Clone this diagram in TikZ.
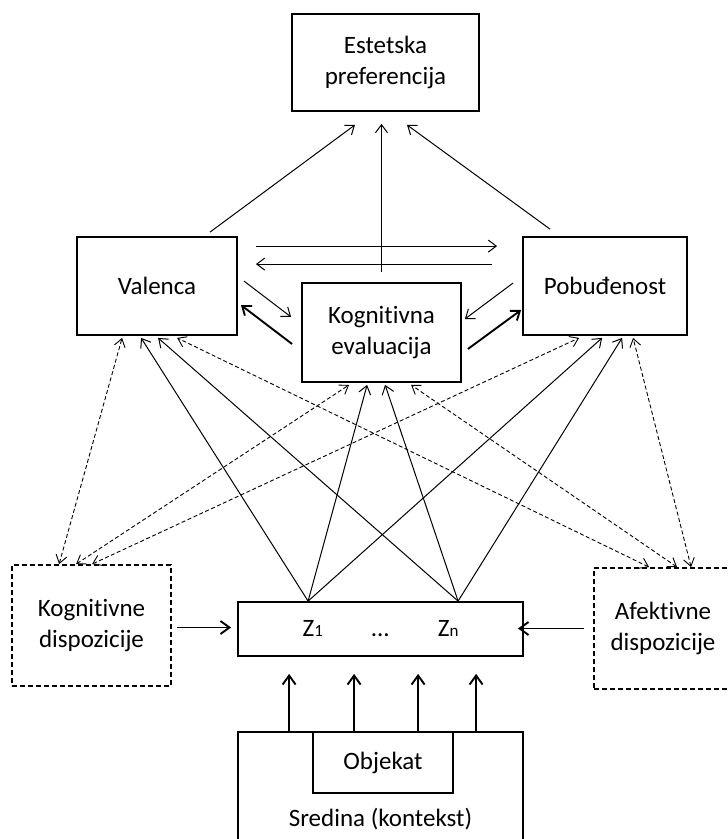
\documentclass[tikz,border=0pt]{standalone}
\usepackage{fontspec}
\setmainfont{Carlito}[Ligatures=NoCommon]
\usetikzlibrary{arrows.meta}
\begin{document}
\begin{tikzpicture}[x=1pt,y=-1pt,
  box/.style={draw,line width=1.8pt,rectangle,inner sep=0pt,align=center,
    font=\fontsize{25}{30.5}\selectfont},
  dbox/.style={box,dash pattern=on 5pt off 3pt},
  thinarr/.style={line width=1pt,-{Straight Barb[length=8pt,width=12pt]}},
  thickarr/.style={line width=1.9pt,-{Straight Barb[length=8pt,width=12pt]}},
  zarr/.style={line width=1.9pt,-{Straight Barb[length=9pt,width=13pt]}},
  darr/.style={line width=0.9pt,dash pattern=on 4pt off 2.5pt,
    {Straight Barb[length=8pt,width=11pt]}-{Straight Barb[length=8pt,width=11pt]}}
]
\useasboundingbox (0,0) rectangle (728,839);
\clip (0,0) rectangle (728,839);
\fill[white] (0,0) rectangle (728,839);

% nodes
\node[box,minimum width=187pt,minimum height=97pt] (est) at (385.5,62.5) {Estetska\\preferencija};
\node[box,minimum width=160pt,minimum height=98pt] (val) at (157,286) {Valenca};
\node[box,minimum width=164pt,minimum height=98pt] (pob) at (605,286) {Pobuđenost};
\node[box,minimum width=159pt,minimum height=99pt] (ke) at (381.5,332.5) {Kognitivna\\evaluacija};
\node[dbox,minimum width=159pt,minimum height=121pt] (kd) at (91.5,625.5) {Kognitivne\\dispozicije};
\node[dbox,minimum width=138pt,minimum height=121pt] (ad) at (663,628.5) {Afektivne\\dispozicije};
\node[box,minimum width=285pt,minimum height=54pt] (z) at (380.5,629)
  {Z{\fontsize{17}{20}\selectfont 1}\hspace{48pt}...\hspace{48pt}Z{\fontsize{17}{20}\selectfont n}};
\node[box,minimum width=285pt,minimum height=174pt] (sred) at (380.5,819) {Sredina (kontekst)};
\node[box,minimum width=140pt,minimum height=61pt] (obj) at (383,762.5) {Objekat};

% to Estetska preferencija
\draw[thinarr] ([xshift=53pt,yshift=4pt]val.north) -- ([xshift=-30.5pt,yshift=-13pt]est.south);
\draw[thinarr] ([yshift=10pt]ke.north) -- ([xshift=-4pt,yshift=-12pt]est.south);
\draw[thinarr] ([xshift=-55pt,yshift=7pt]pob.north) -- ([xshift=21.5pt,yshift=-13pt]est.south);

% between Valenca and Pobudjenost
\draw[thinarr] ([xshift=18pt,yshift=-10pt]val.north east) -- ([xshift=-25pt,yshift=-10pt]pob.north west);
\draw[thinarr] ([xshift=-30pt,yshift=-28pt]pob.north west) -- ([xshift=18pt,yshift=-28pt]val.north east);

% Valenca / Pobudjenost <-> Kognitivna evaluacija
\draw[thinarr] ([xshift=6pt,yshift=5pt]val.east) -- ([xshift=-10pt,yshift=15.5pt]ke.west);
\draw[thickarr] ([xshift=-9pt,yshift=-11.5pt]ke.west) -- ([xshift=3pt,yshift=-19pt]val.east);
\draw[thinarr] ([xshift=-9pt,yshift=3pt]pob.west) -- ([xshift=3pt,yshift=13.5pt]ke.east);
\draw[thickarr] ([xshift=6pt,yshift=-16.5pt]ke.east) -- ([xshift=-1pt,yshift=-24pt]pob.west);

% from Z1 and Zn
\coordinate (z1) at ([xshift=71pt]z.north west);
\coordinate (zn) at ([xshift=221pt]z.north west);
\draw[thinarr] (z1) -- ([xshift=65pt,yshift=-2pt]val.south west);
\draw[thinarr] (zn) -- ([xshift=82pt,yshift=-2pt]val.south west);
\draw[thinarr] (z1) -- ([xshift=66pt,yshift=-2pt]ke.south west);
\draw[thinarr] (zn) -- ([xshift=84pt,yshift=-2pt]ke.south west);
\draw[thinarr] (z1) -- ([xshift=80pt,yshift=-2pt]pob.south west);
\draw[thinarr] (zn) -- ([xshift=100pt,yshift=-2pt]pob.south west);

% dashed two-way connectors
\draw[darr] ([xshift=48pt]kd.north west) -- ([xshift=46pt,yshift=-2pt]val.south west);
\draw[darr] ([xshift=65pt]kd.north west) -- ([xshift=48pt,yshift=-2pt]ke.south west);
\draw[darr] ([xshift=81pt]kd.north west) -- ([xshift=57pt,yshift=-2pt]pob.south west);
\draw[darr] ([xshift=56pt]ad.north west) -- ([xshift=101pt,yshift=-2pt]val.south west);
\draw[darr] ([xshift=84pt]ad.north west) -- ([xshift=110pt,yshift=-2pt]ke.south west);
\draw[darr] ([xshift=98pt]ad.north west) -- ([xshift=111pt,yshift=-2pt]pob.south west);

% dispositions to Z
\draw[zarr] ([xshift=5pt,yshift=-2pt]kd.east) -- ([xshift=-6pt,yshift=-2pt]kd.east -| z.west);
\draw[zarr] ([xshift=-9pt]ad.west) -- ([xshift=-6pt]ad.west -| z.east);

% environment to Z
\foreach \dx in {52,117,181,239}{
  \draw[zarr] ([xshift=\dx pt]sred.north west) -- ([xshift=\dx pt,yshift=-17pt]z.south west);
}
\end{tikzpicture}
\end{document}
